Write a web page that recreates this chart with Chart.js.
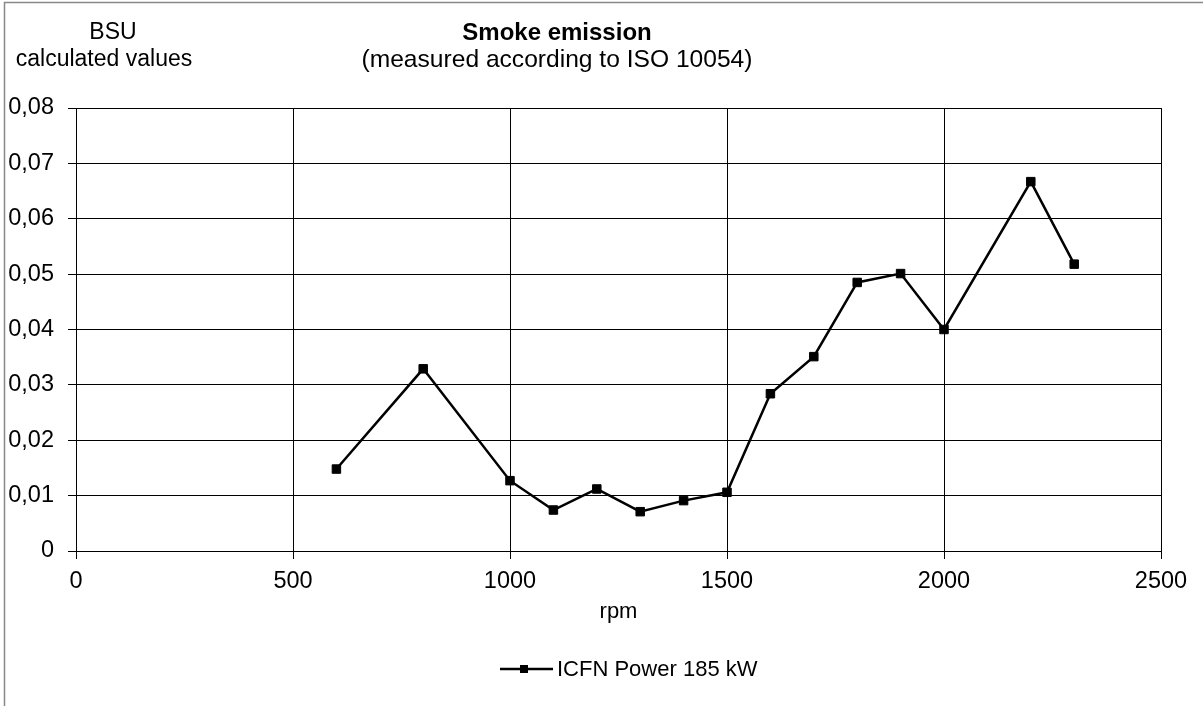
<!DOCTYPE html>
<html><head><meta charset="utf-8">
<script src="https://cdn.jsdelivr.net/npm/chart.js@4/dist/chart.umd.min.js"></script>
<style>html,body{margin:0;padding:0;background:#fff;overflow:hidden}#wrap{width:1203px;height:706px;position:relative}</style>
</head><body><div id="wrap"><canvas id="c" width="1203" height="706"></canvas></div>
<script>
const rpm = [600, 800, 1000, 1100, 1200, 1300, 1400, 1500, 1600, 1700, 1800, 1900, 2000, 2200, 2300];
const bsu = [0.0148, 0.0329, 0.0127, 0.0074, 0.0112, 0.0071, 0.0091, 0.0106, 0.0284, 0.0351, 0.0485, 0.0501, 0.0400, 0.0667, 0.0518];
const xTicks = [0, 500, 1000, 1500, 2000, 2500];
const yTicks = [0, 0.01, 0.02, 0.03, 0.04, 0.05, 0.06, 0.07, 0.08];
const chartTitle = 'Smoke emission';
const chartSubtitle = '(measured according to ISO 10054)';
const yTitleLines = ['BSU', 'calculated values'];
const xTitle = 'rpm';
const seriesName = 'ICFN Power 185 kW';

const FONT = '"Liberation Sans", Arial, sans-serif';

const decor = {
  id: 'decor',
  afterDraw(chart) {
    const ctx = chart.ctx;
    ctx.save();
    // outer frame
    ctx.strokeStyle = '#888';
    ctx.lineWidth = 1.5;
    ctx.strokeRect(4.5, 2.5, 1400, 1400);
    ctx.fillStyle = '#000';
    ctx.textAlign = 'center';
    ctx.textBaseline = 'middle';
    ctx.font = '23px ' + FONT;
    ctx.fillText(yTitleLines[0], 113, 33);
    ctx.fillText(yTitleLines[1], 104, 60);
    ctx.font = 'bold 24px ' + FONT;
    ctx.fillText(chartTitle, 557, 33);
    ctx.font = '24.6px ' + FONT;
    ctx.fillText(chartSubtitle, 557, 60);
    // legend
    const ly = 669;
    ctx.strokeStyle = '#000';
    ctx.lineWidth = 2.5;
    ctx.beginPath();
    ctx.moveTo(500, ly);
    ctx.lineTo(553, ly);
    ctx.stroke();
    ctx.fillRect(520, ly - 4, 8, 8);
    ctx.textAlign = 'left';
    ctx.font = '22px ' + FONT;
    ctx.fillText(seriesName, 557, ly + 1);
    ctx.restore();
  }
};

new Chart(document.getElementById('c'), {
  type: 'line',
  data: {
    datasets: [{
      label: seriesName,
      data: rpm.map((x, i) => ({ x: x, y: bsu[i] })),
      borderColor: '#000',
      backgroundColor: '#000',
      borderWidth: 2.5,
      pointStyle: 'rect',
      pointRadius: 6,
      pointBorderWidth: 1,
      pointBackgroundColor: '#000',
      pointBorderColor: '#000',
      tension: 0,
      fill: false
    }]
  },
  options: {
    responsive: false,
    animation: false,
    devicePixelRatio: 1,
    layout: { padding: { left: 0, right: 42, top: 108, bottom: 77 } },
    plugins: { legend: { display: false }, title: { display: false }, tooltip: { enabled: false } },
    scales: {
      x: {
        type: 'linear', min: 0, max: 2500,
        afterBuildTicks: s => { s.ticks = xTicks.map(v => ({ value: v })); },
        afterFit: s => { s.height = 78; },
        grid: { color: '#000', lineWidth: 1, tickLength: 8, tickColor: '#000' },
        border: { display: true, color: '#000', width: 1 },
        ticks: { color: '#000', font: { family: FONT, size: 23.5 }, padding: 8, maxRotation: 0, autoSkip: false,
          callback: v => String(v) },
        title: { display: true, text: xTitle, color: '#000', font: { family: FONT, size: 22 }, padding: { top: 4, bottom: 4 } }
      },
      y: {
        type: 'linear', min: 0, max: 0.08,
        afterBuildTicks: s => { s.ticks = yTicks.map(v => ({ value: v })); },
        afterFit: s => { s.width = 76; },
        grid: { color: '#000', lineWidth: 1, tickLength: 8, tickColor: '#000' },
        border: { display: true, color: '#000', width: 1 },
        ticks: {
          color: '#000', font: { family: FONT, size: 23.5 }, padding: 14, autoSkip: false,
          callback: v => v === 0 ? '0' : v.toFixed(2).replace('.', ',')
        }
      }
    }
  },
  plugins: [decor]
});
</script>
</body></html>
